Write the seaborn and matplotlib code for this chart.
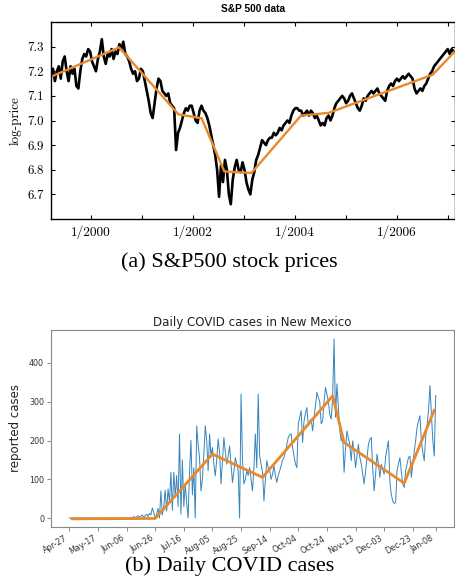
import pandas as pd
import seaborn as sns
import matplotlib.pyplot as plt

# ---- S&P 500 log-price, one value every 14 days from 22 Mar 1999 ----
sp_start = '1999-03-22'
sp_1999 = [7.18, 7.21, 7.16, 7.20, 7.22, 7.17, 7.24, 7.26, 7.20, 7.16,
           7.22, 7.19, 7.21, 7.14, 7.13, 7.20, 7.25, 7.27, 7.26, 7.29]
sp_2000 = [7.28, 7.24, 7.22, 7.20, 7.25, 7.28, 7.33, 7.26, 7.23, 7.27,
           7.26, 7.29, 7.25, 7.28, 7.27, 7.31, 7.29, 7.32, 7.27, 7.26,
           7.24, 7.21, 7.19, 7.20, 7.16, 7.17]
sp_2001 = [7.21, 7.20, 7.16, 7.12, 7.08, 7.03, 7.01, 7.07, 7.13, 7.17,
           7.16, 7.12, 7.11, 7.10, 7.11, 7.07, 7.06, 7.05, 6.88, 6.95,
           6.97, 7.00, 7.03, 7.05, 7.04, 7.06]
sp_2002 = [7.06, 7.03, 7.00, 6.99, 7.04, 7.06, 7.04, 7.03, 7.01, 6.98,
           6.94, 6.90, 6.86, 6.80, 6.69, 6.82, 6.75, 6.84, 6.80, 6.70,
           6.66, 6.76, 6.81, 6.84, 6.80, 6.79]
sp_2003 = [6.83, 6.80, 6.75, 6.72, 6.70, 6.76, 6.79, 6.84, 6.86, 6.89,
           6.92, 6.91, 6.90, 6.92, 6.93, 6.93, 6.95, 6.94, 6.95, 6.97,
           6.96, 6.98, 6.99, 7.00, 6.99, 7.02]
sp_2004 = [7.04, 7.05, 7.05, 7.04, 7.04, 7.02, 7.03, 7.04, 7.02, 7.04,
           7.03, 7.01, 7.02, 7.00, 6.98, 6.99, 6.98, 7.01, 7.02, 7.00,
           7.02, 7.05, 7.07, 7.08, 7.09, 7.10]
sp_2005 = [7.09, 7.07, 7.08, 7.10, 7.11, 7.09, 7.07, 7.05, 7.04, 7.06,
           7.09, 7.08, 7.10, 7.11, 7.12, 7.11, 7.12, 7.13, 7.11, 7.10,
           7.09, 7.08, 7.12, 7.14, 7.15, 7.14]
sp_2006 = [7.16, 7.17, 7.16, 7.17, 7.18, 7.17, 7.18, 7.19, 7.18, 7.17,
           7.13, 7.11, 7.12, 7.13, 7.12, 7.14, 7.15, 7.17, 7.19, 7.20,
           7.22, 7.23, 7.24, 7.25, 7.26, 7.27]
sp_2007 = [7.28, 7.29, 7.27, 7.29, 7.28]

# piecewise linear fit (orange)
sp_fit_dates = ['1999-04-08', '2000-07-22', '2001-09-20', '2002-03-05', '2002-08-15',
                '2003-02-25', '2004-02-15', '2004-08-30', '2006-09-15', '2007-02-20']
sp_fit_values = [7.182, 7.297, 7.025, 7.009, 6.793, 6.787, 7.02, 7.031, 7.186, 7.28]

sp_tick_dates = ['2000-01-01', '2001-01-01', '2002-01-01', '2003-01-01',
                 '2004-01-01', '2005-01-01', '2006-01-01', '2007-01-01']
sp_tick_labels = ['1/2000', '', '1/2002', '', '1/2004', '', '1/2006', '']
sp_yticks = [6.7, 6.8, 6.9, 7.0, 7.1, 7.2, 7.3]

# ---- Daily COVID cases in New Mexico, from 27 Apr 2020 ----
covid_start = '2020-04-27'
covid_cases = [
    0, 0, 0, 0, 0, 0, 0, 0, 0, 0,
    0, 0, 0, 0, 0, 0, 0, 0, 0, 0,
    0, 0, 0, 0, 0, 0, 0, 0, 0, 0,
    0, 0, 0, 0, 0, 0, 0, 0, 0, 0,
    0, 0, 0, 2, 0, 4, 1, 3, 6, 2,
    5, 8, 3, 6, 10, 4, 12, 8, 26, 14,
    0, 10, 25, 0, 70, 8, 30, 72, 18, 75,
    40, 118, 20, 118, 55, 110, 30, 217, 10, 150,
    30, 88, 40, 0, 120, 200, 60, 130, 0, 238,
    190, 156, 70, 100, 165, 238, 200, 122, 217, 160,
    182, 140, 109, 150, 204, 170, 88, 150, 208, 170,
    139, 160, 186, 140, 92, 120, 156, 140, 122, 0,
    320, 150, 88, 100, 122, 110, 130, 100, 70, 130,
    217, 130, 320, 160, 139, 120, 44, 100, 148, 130,
    122, 100, 113, 135, 110, 92, 110, 122, 135, 150,
    156, 170, 190, 208, 215, 217, 182, 160, 140, 130,
    243, 260, 277, 195, 250, 270, 285, 238, 250, 255,
    225, 260, 290, 324, 311, 300, 243, 250, 300, 337,
    320, 302, 268, 255, 311, 462, 260, 346, 285, 225,
    199, 210, 118, 180, 225, 205, 190, 148, 199, 170,
    130, 160, 190, 156, 140, 113, 88, 120, 156, 190,
    203, 208, 130, 70, 113, 165, 140, 105, 139, 125,
    113, 156, 180, 199, 96, 60, 44, 38, 40, 122,
    140, 156, 120, 88, 79, 122, 140, 156, 160, 105,
    140, 173, 200, 234, 250, 264, 199, 170, 148, 208,
    240, 277, 342, 268, 200, 160, 316,
]
covid_fit_dates = ['2020-04-29', '2020-06-26', '2020-08-05', '2020-09-09',
                   '2020-10-28', '2020-11-05', '2020-12-17', '2021-01-07']
covid_fit_values = [-2, -1, 165, 105, 315, 195, 90, 278]

covid_tick_labels = ['Apr-27', 'May-17', 'Jun-06', 'Jun-26', 'Jul-16', 'Aug-05', 'Aug-25',
                     'Sep-14', 'Oct-04', 'Oct-24', 'Nov-13', 'Dec-03', 'Dec-23', 'Jan-08']
covid_tick_dates = ['2020-04-27', '2020-05-17', '2020-06-06', '2020-06-26', '2020-07-16',
                    '2020-08-05', '2020-08-25', '2020-09-14', '2020-10-04', '2020-10-24',
                    '2020-11-13', '2020-12-03', '2020-12-23', '2021-01-08']
covid_yticks = [0, 100, 200, 300, 400]

ORANGE = '#e8892b'

sp_values = sp_1999 + sp_2000 + sp_2001 + sp_2002 + sp_2003 + sp_2004 + sp_2005 + sp_2006 + sp_2007
sp = pd.DataFrame({'date': pd.date_range(sp_start, periods=len(sp_values), freq='14D'),
                   'price': sp_values})
sp_fit = pd.DataFrame({'date': pd.to_datetime(sp_fit_dates), 'price': sp_fit_values})

covid = pd.DataFrame({'date': pd.date_range(covid_start, periods=len(covid_cases), freq='D'),
                      'cases': covid_cases})
covid_fit = pd.DataFrame({'date': pd.to_datetime(covid_fit_dates), 'cases': covid_fit_values})

fig = plt.figure(figsize=(4.56, 5.87), dpi=100)
ax1 = fig.add_axes([51 / 456, 1 - 219 / 587, 404 / 456, 197 / 587])
ax2 = fig.add_axes([51 / 456, 1 - 527 / 587, 403 / 456, 197 / 587])

# top panel: S&P 500
sns.lineplot(data=sp, x='date', y='price', ax=ax1, color='black', linewidth=1.9)
sns.lineplot(data=sp_fit, x='date', y='price', ax=ax1, color=ORANGE, linewidth=1.7)
ax1.set_xlim(pd.Timestamp('1999-03-22'), pd.Timestamp('2007-02-22'))
ax1.set_ylim(6.6, 7.4)
ax1.set_yticks(sp_yticks)
ax1.set_yticklabels([f'{v:.1f}' for v in sp_yticks], fontfamily='cmr10', fontsize=9.3)
ax1.set_xticks(pd.to_datetime(sp_tick_dates))
ax1.set_xticklabels(sp_tick_labels, fontfamily='cmr10', fontsize=9.6)
ax1.tick_params(direction='in', length=3, width=0.8, top=True, right=True, pad=5)
ax1.set_xlabel('')
ax1.set_ylabel('log-price', fontfamily='cmr10', fontsize=9.5, labelpad=4)
for s in ax1.spines.values():
    s.set_linewidth(1.0)
ax1.set_title('S&P 500 data', fontfamily='Liberation Sans', fontweight='bold',
              fontsize=7.3, pad=7)

# bottom panel: COVID
sns.lineplot(data=covid, x='date', y='cases', ax=ax2, color='#1f77b4', linewidth=0.7, alpha=0.9)
sns.lineplot(data=covid_fit, x='date', y='cases', ax=ax2, color=ORANGE, linewidth=2.0)
ax2.set_xlim(pd.Timestamp('2020-04-27') - pd.Timedelta(days=12.8),
             pd.Timestamp('2021-01-08') + pd.Timedelta(days=12.8))
ax2.set_ylim(-23, 485)
ax2.set_yticks(covid_yticks)
ax2.set_yticklabels([str(v) for v in covid_yticks], fontsize=5.8, color='#333333')
ax2.set_xticks(pd.to_datetime(covid_tick_dates))
ax2.set_xticklabels(covid_tick_labels, fontsize=5.8, color='#333333', rotation=30, ha='right')
ax2.tick_params(length=3, width=0.6, color='#777777', pad=2)
for s in ax2.spines.values():
    s.set_color('#888888')
    s.set_linewidth(0.8)
ax2.set_xlabel('')
ax2.set_ylabel('reported cases', fontsize=8.5, color='#222222', labelpad=5)
ax2.set_title('Daily COVID cases in New Mexico', fontsize=8.6, color='#222222', pad=3)

# captions
fig.text(0.503, 1 - 262 / 587, '(a) S&P500 stock prices', family='Liberation Serif',
         fontsize=16, ha='center', va='center')
fig.text(0.503, 1 - 566 / 587, '(b) Daily COVID cases', family='Liberation Serif',
         fontsize=16, ha='center', va='center')

fig.savefig('out.png', dpi=100)
